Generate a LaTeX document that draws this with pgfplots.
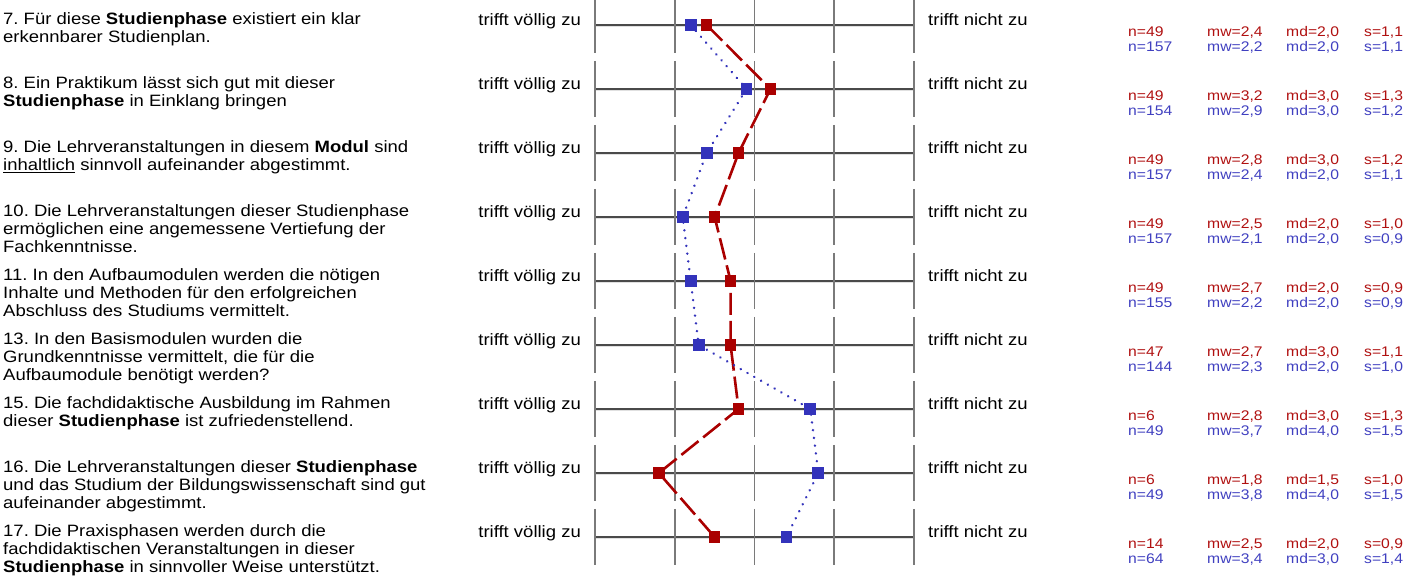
\documentclass[border=0pt]{standalone}
\usepackage{fontspec}
\setmainfont[FakeStretch=1.125]{Liberation Sans}
\usepackage{pgfplots}
\usepackage{pgfplotstable}
\pgfplotsset{compat=1.18}
\frenchspacing
\definecolor{rd}{HTML}{AA0000}
\definecolor{bl}{HTML}{3333BB}
\definecolor{rdt}{HTML}{B01010}
\definecolor{blt}{HTML}{4040C0}
\definecolor{vg}{HTML}{7A7A7A}
\definecolor{hg}{HTML}{4A4A4A}

\pgfplotstableread{
row red blue
0 2.4 2.2
1 3.2 2.9
2 2.8 2.4
3 2.5 2.1
4 2.7 2.2
5 2.7 2.3
6 2.8 3.7
7 1.8 3.8
8 2.5 3.4
}\means

\newcommand{\qfont}{\fontsize{16.5}{18}\selectfont}
\newcommand{\sfont}{\fontsize{14}{16}\selectfont}

\begin{document}
\begin{tikzpicture}[x=1bp,y=1bp]
\path[use as bounding box] (0,0) rectangle (1420,578);
% grid (pixel coordinates, y downward)
\begin{scope}[shift={(0,578)}, y=-1bp]
\foreach \r in {0,...,8}{
  \pgfmathsetmacro{\yy}{25+64*\r}
  \draw[black!12, line width=1.2bp] (595,\yy+1.3) -- (914,\yy+1.3);
  \draw[hg, line width=1.3bp] (595,\yy) -- (914,\yy);
  \foreach \k in {0,...,4}{
    \pgfmathsetmacro{\xx}{595+79.75*\k}
    \draw[vg, line width=1.6bp] (\xx,\yy-28) -- (\xx,\yy+28);
  }
}
\end{scope}
\begin{axis}[at={(595bp,0bp)}, anchor=south west, width=319bp, height=578bp,
  scale only axis, xmin=1, xmax=5, ymin=-0.390625, ymax=8.640625,
  y dir=reverse, hide axis, clip=false]
\addplot[rd, line width=2.6bp, dash pattern=on 22bp off 6bp, mark=square*,
  mark size=4.5bp, mark options={solid}] table[x=red, y=row] {\means};
\addplot[bl, line width=2.7bp, line cap=round, dash pattern=on 0.01bp off 7.8bp,
  mark=square*, mark size=4.5bp, mark options={solid}] table[x=blue, y=row] {\means};
\end{axis}
\begin{scope}[shift={(0,578)}, y=-1bp]
\foreach \r in {0,...,8}{
  \pgfmathsetmacro{\yy}{25+64*\r}
  \node[anchor=base east, inner sep=0pt, font=\qfont] at (581,\yy+1) {trifft völlig zu};
  \node[anchor=base west, inner sep=0pt, font=\qfont] at (928,\yy+1) {trifft nicht zu};
}
% questions
\newcommand{\q}[3]{\node[anchor=base west, inner sep=0pt, font=\qfont] at (3,#1+#2*17.8) {#3};}
\q{25}{0}{7. Für diese \textbf{Studienphase} existiert ein klar}
\q{25}{1}{erkennbarer Studienplan.}
\q{89}{0}{8. Ein Praktikum lässt sich gut mit dieser}
\q{89}{1}{\textbf{Studienphase} in Einklang bringen}
\q{153}{0}{9. Die Lehrveranstaltungen in diesem \textbf{Modul} sind}
\q{153}{1}{\underline{inhaltlich} sinnvoll aufeinander abgestimmt.}
\q{217}{0}{10. Die Lehrveranstaltungen dieser Studienphase}
\q{217}{1}{ermöglichen eine angemessene Vertiefung der}
\q{217}{2}{Fachkenntnisse.}
\q{281}{0}{11. In den Aufbaumodulen werden die nötigen}
\q{281}{1}{Inhalte und Methoden für den erfolgreichen}
\q{281}{2}{Abschluss des Studiums vermittelt.}
\q{345}{0}{13. In den Basismodulen wurden die}
\q{345}{1}{Grundkenntnisse vermittelt, die für die}
\q{345}{2}{Aufbaumodule benötigt werden?}
\q{409}{0}{15. Die fachdidaktische Ausbildung im Rahmen}
\q{409}{1}{dieser \textbf{Studienphase} ist zufriedenstellend.}
\q{473}{0}{16. Die Lehrveranstaltungen dieser \textbf{Studienphase}}
\q{473}{1}{und das Studium der Bildungswissenschaft sind gut}
\q{473}{2}{aufeinander abgestimmt.}
\q{537}{0}{17. Die Praxisphasen werden durch die}
\q{537}{1}{fachdidaktischen Veranstaltungen in dieser}
\q{537}{2}{\textbf{Studienphase} in sinnvoller Weise unterstützt.}
% stats
\newcommand{\st}[6]{%
  \node[anchor=base west, inner sep=0pt, font=\sfont, text=#2] at (1128,#1) {n=#3};
  \node[anchor=base west, inner sep=0pt, font=\sfont, text=#2] at (1207,#1) {mw=#4};
  \node[anchor=base west, inner sep=0pt, font=\sfont, text=#2] at (1286,#1) {md=#5};
  \node[anchor=base west, inner sep=0pt, font=\sfont, text=#2] at (1364,#1) {s=#6};}
\st{37}{rdt}{49}{2,4}{2,0}{1,1}
\st{52}{blt}{157}{2,2}{2,0}{1,1}
\st{101}{rdt}{49}{3,2}{3,0}{1,3}
\st{116}{blt}{154}{2,9}{3,0}{1,2}
\st{165}{rdt}{49}{2,8}{3,0}{1,2}
\st{180}{blt}{157}{2,4}{2,0}{1,1}
\st{229}{rdt}{49}{2,5}{2,0}{1,0}
\st{244}{blt}{157}{2,1}{2,0}{0,9}
\st{293}{rdt}{49}{2,7}{2,0}{0,9}
\st{308}{blt}{155}{2,2}{2,0}{0,9}
\st{357}{rdt}{47}{2,7}{3,0}{1,1}
\st{372}{blt}{144}{2,3}{2,0}{1,0}
\st{421}{rdt}{6}{2,8}{3,0}{1,3}
\st{436}{blt}{49}{3,7}{4,0}{1,5}
\st{485}{rdt}{6}{1,8}{1,5}{1,0}
\st{500}{blt}{49}{3,8}{4,0}{1,5}
\st{549}{rdt}{14}{2,5}{2,0}{0,9}
\st{564}{blt}{64}{3,4}{3,0}{1,4}
\end{scope}
\end{tikzpicture}
\end{document}
